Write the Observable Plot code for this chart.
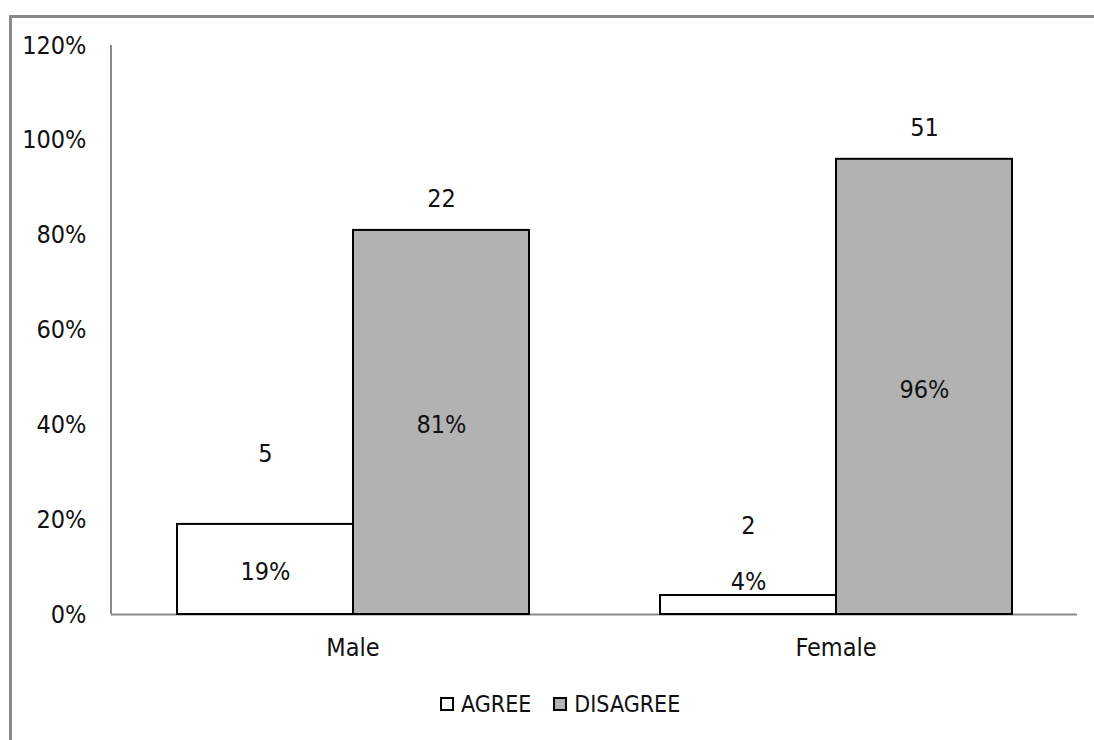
<!DOCTYPE html>
<html>
<head>
<meta charset="utf-8">
<script src="https://cdn.jsdelivr.net/npm/d3@7"></script>
<script src="https://cdn.jsdelivr.net/npm/@observablehq/plot@0.6"></script>
<style>
  html, body { margin: 0; padding: 0; background: #fff; overflow: hidden; }
  #page { position: relative; width: 1094px; height: 740px; font-family: "Liberation Sans Narrow", "DejaVu Sans Condensed", "Liberation Sans", sans-serif; }
  #frame { position: absolute; left: 9px; top: 15px; width: 1090px; height: 730px; border-left: 3px solid #8a8a8a; border-top: 3px solid #8a8a8a; box-sizing: border-box; }
  #chart { position: absolute; left: 0; top: 0; }
  #legend { position: absolute; left: 440px; top: 691px; display: flex; align-items: center; font-size: 23px; color: #111; }
  .item { display: flex; align-items: center; margin-right: 22px; }
  .sw { width: 14px; height: 14px; box-sizing: border-box; border: 2px solid #000; margin-right: 7px; }
</style>
</head>
<body>
<div id="page">
  <div id="frame"></div>
  <div id="chart"></div>
  <div id="legend"></div>
</div>
<script>
const genders = ["Male", "Female"];
const series = ["AGREE", "DISAGREE"];
const agreePct = [19, 4];
const disagreePct = [81, 96];
const agreeCount = [5, 2];
const disagreeCount = [22, 51];
const yTicks = [0, 20, 40, 60, 80, 100, 120];
const colors = ["#ffffff", "#b2b2b2"];

const rows = [];
genders.forEach((g, i) => {
  rows.push({gender: g, series: "AGREE", pct: agreePct[i], count: agreeCount[i]});
  rows.push({gender: g, series: "DISAGREE", pct: disagreePct[i], count: disagreeCount[i]});
});

const font = "Liberation Sans Narrow, DejaVu Sans Condensed, Liberation Sans, sans-serif";
const fs = 25;

const plot = Plot.plot({
  width: 1094,
  height: 685,
  marginLeft: 111,
  marginRight: 17,
  marginTop: 45,
  marginBottom: 71,
  style: {fontFamily: font, fontSize: fs + "px", color: "#111", background: "transparent", overflow: "visible"},
  fx: {domain: genders, padding: 0, label: null, tickSize: 0, tickPadding: 24},
  x: {domain: series, paddingInner: 0, paddingOuter: 0.372, axis: null},
  y: {domain: [0, 120], ticks: yTicks, tickFormat: d => d + "%", label: null, tickSize: 0, tickPadding: 25},
  color: {domain: series, range: colors},
  marks: [
    Plot.ruleY([0], {stroke: "#8a8a8a", strokeWidth: 2}),
    Plot.barY(rows, {fx: "gender", x: "series", y: "pct", fill: "series", stroke: "#000", strokeWidth: 2}),
    Plot.text(rows.filter(d => d.pct >= 10), {fx: "gender", x: "series", y: d => d.pct / 2, text: d => d.pct + "%", fontSize: fs, dy: 3, fill: "#111"}),
    Plot.text(rows.filter(d => d.pct < 10), {fx: "gender", x: "series", y: "pct", text: d => d.pct + "%", fontSize: fs, dy: -14, fill: "#111"}),
    Plot.text(rows.filter(d => d.series === "AGREE"), {fx: "gender", x: "series", y: "pct", text: "count", fontSize: fs, dy: -70, fill: "#111"}),
    Plot.text(rows.filter(d => d.series === "DISAGREE"), {fx: "gender", x: "series", y: "pct", text: "count", fontSize: fs, dy: -31, fill: "#111"})
  ]
});

// y axis line derived from the scales
const ys = plot.scale("y");
d3.select(plot).append("line")
  .attr("x1", 111).attr("x2", 111)
  .attr("y1", ys.apply(0)).attr("y2", ys.apply(120))
  .attr("stroke", "#8a8a8a").attr("stroke-width", 2);

document.getElementById("chart").appendChild(plot);

const legend = document.getElementById("legend");
series.forEach((s, i) => {
  const item = document.createElement("div");
  item.className = "item";
  const sw = document.createElement("div");
  sw.className = "sw";
  sw.style.background = colors[i];
  const t = document.createElement("span");
  t.textContent = s;
  item.appendChild(sw);
  item.appendChild(t);
  legend.appendChild(item);
});
</script>
</body>
</html>
